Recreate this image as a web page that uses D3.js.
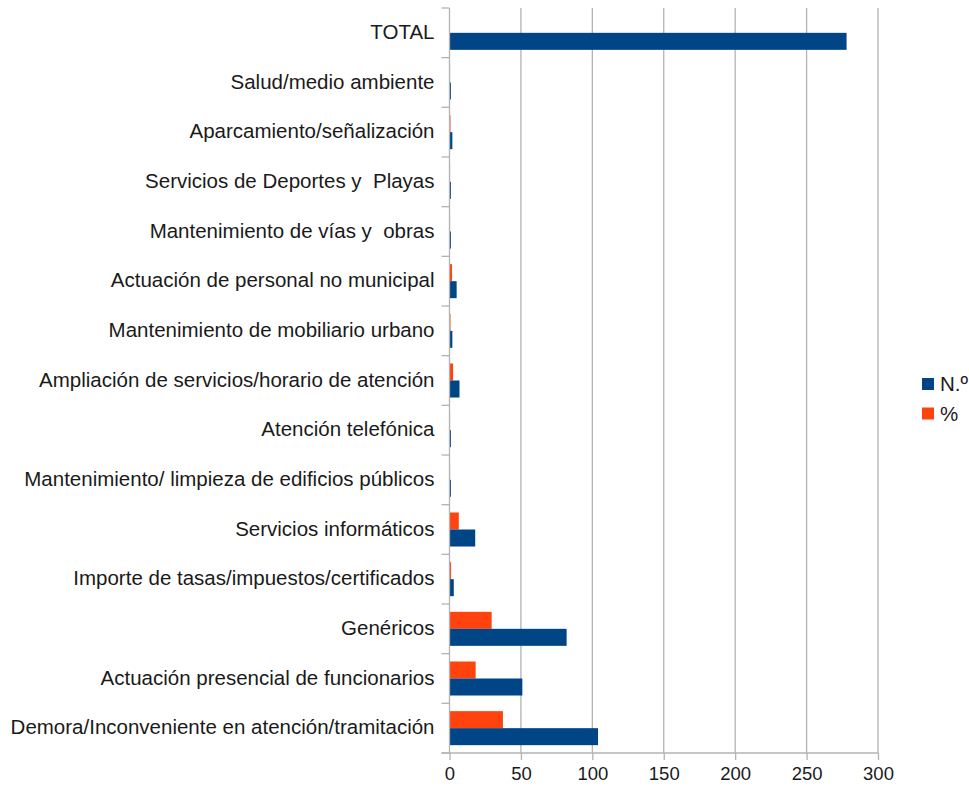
<!DOCTYPE html>
<html>
<head>
<meta charset="utf-8">
<script src="https://cdn.jsdelivr.net/npm/d3@7"></script>
<style>
body { margin: 0; background: #fff; }
text { font-family: "Liberation Sans", Arial, sans-serif; fill: #1a1a1a; white-space: pre; }
</style>
</head>
<body>
<div id="chart"></div>
<script>
// categories, top to bottom
var categories = [
  "TOTAL",
  "Salud/medio ambiente",
  "Aparcamiento/señalización",
  "Servicios de Deportes y  Playas",
  "Mantenimiento de vías y  obras",
  "Actuación de personal no municipal",
  "Mantenimiento de mobiliario urbano",
  "Ampliación de servicios/horario de atención",
  "Atención telefónica",
  "Mantenimiento/ limpieza de edificios públicos",
  "Servicios informáticos",
  "Importe de tasas/impuestos/certificados",
  "Genéricos",
  "Actuación presencial de funcionarios",
  "Demora/Inconveniente en atención/tramitación"
];
var numValues = [278, 1, 2, 1, 1, 5, 2, 7, 1, 1, 18, 3, 82, 51, 104];
var pctValues = [null, 0.4, 0.7, 0.4, 0.4, 1.8, 0.7, 2.5, 0.4, 0.4, 6.5, 1.1, 29.5, 18.3, 37.4];
var seriesNames = ["N.º", "%"];
var xTicks = [0, 50, 100, 150, 200, 250, 300];

var colors = { "N.º": "#004586", "%": "#ff420e" };

drawChart();

function drawChart() {
  var W = 969, H = 787;
  var margin = {top: 8, left: 449.5, right: 91, bottom: 34};
  var width = W - margin.left - margin.right,
      height = H - margin.top - margin.bottom;

  var svg = d3.select("#chart").append("svg")
      .attr("width", W).attr("height", H);
  var g = svg.append("g")
      .attr("transform", "translate(" + margin.left + "," + margin.top + ")");

  var x = d3.scaleLinear().domain([0, 300]).range([0, width]);
  var y = d3.scaleBand().domain(categories).range([0, height])
      .paddingInner(0.315).paddingOuter(0.1575);
  // inner band: % on top, N.º below
  var y1 = d3.scaleBand().domain(["%", "N.º"]).range([0, y.bandwidth()]);

  // gridlines
  g.selectAll(".grid").data(xTicks.slice(1)).enter().append("line")
      .attr("x1", function(d) { return x(d); })
      .attr("x2", function(d) { return x(d); })
      .attr("y1", 0).attr("y2", height)
      .attr("stroke", "#b3b3b3").attr("stroke-width", 1.3);

  // bars
  var rows = g.selectAll(".row").data(categories).enter().append("g")
      .attr("transform", function(d) { return "translate(0," + y(d) + ")"; });

  rows.each(function(c, i) {
    var r = d3.select(this);
    var items = [
      {s: "%", v: pctValues[i]},
      {s: "N.º", v: numValues[i]}
    ].filter(function(d) { return d.v != null; });
    r.selectAll("rect").data(items).enter().append("rect")
        .attr("x", 0)
        .attr("y", function(d) { return y1(d.s); })
        .attr("width", function(d) { return x(d.v); })
        .attr("height", y1.bandwidth())
        .attr("fill", function(d) { return colors[d.s]; });
  });

  // x axis
  var xAxis = g.append("g")
      .attr("transform", "translate(0," + height + ")")
      .call(d3.axisBottom(x).tickValues(xTicks).tickSize(7).tickPadding(7));
  xAxis.select(".domain").attr("stroke", "#b3b3b3").attr("stroke-width", 1.3)
      .attr("d", "M-8,0H" + width);
  xAxis.selectAll(".tick line").attr("stroke", "#b3b3b3").attr("stroke-width", 1.3);
  xAxis.selectAll("text").style("font-size", "18.5px").attr("fill", "#1a1a1a");

  // y axis
  var yAxis = g.append("g").call(d3.axisLeft(y).tickSize(0).tickPadding(15));
  yAxis.select(".domain").attr("stroke", "#b3b3b3").attr("stroke-width", 1.3)
      .attr("d", "M0,0V" + height);
  yAxis.selectAll("text").style("font-size", "20.5px").attr("fill", "#1a1a1a")
      .attr("dy", "0.3em");
  // tick marks at band boundaries
  g.selectAll(".ytick").data(d3.range(categories.length + 1)).enter().append("line")
      .attr("x1", -8).attr("x2", 0)
      .attr("y1", function(d) { return d * y.step(); })
      .attr("y2", function(d) { return d * y.step(); })
      .attr("stroke", "#b3b3b3").attr("stroke-width", 1.3);

  // legend
  var legend = svg.append("g").attr("transform", "translate(922,378)");
  var li = legend.selectAll("g").data(seriesNames).enter().append("g")
      .attr("transform", function(d, i) { return "translate(0," + (i * 29.5) + ")"; });
  li.append("rect").attr("width", 12).attr("height", 12)
      .attr("fill", function(d) { return colors[d]; });
  li.append("text").attr("x", 18).attr("y", 6).attr("dy", "0.35em")
      .style("font-size", "20.5px").text(function(d) { return d; });
}
</script>
</body>
</html>
